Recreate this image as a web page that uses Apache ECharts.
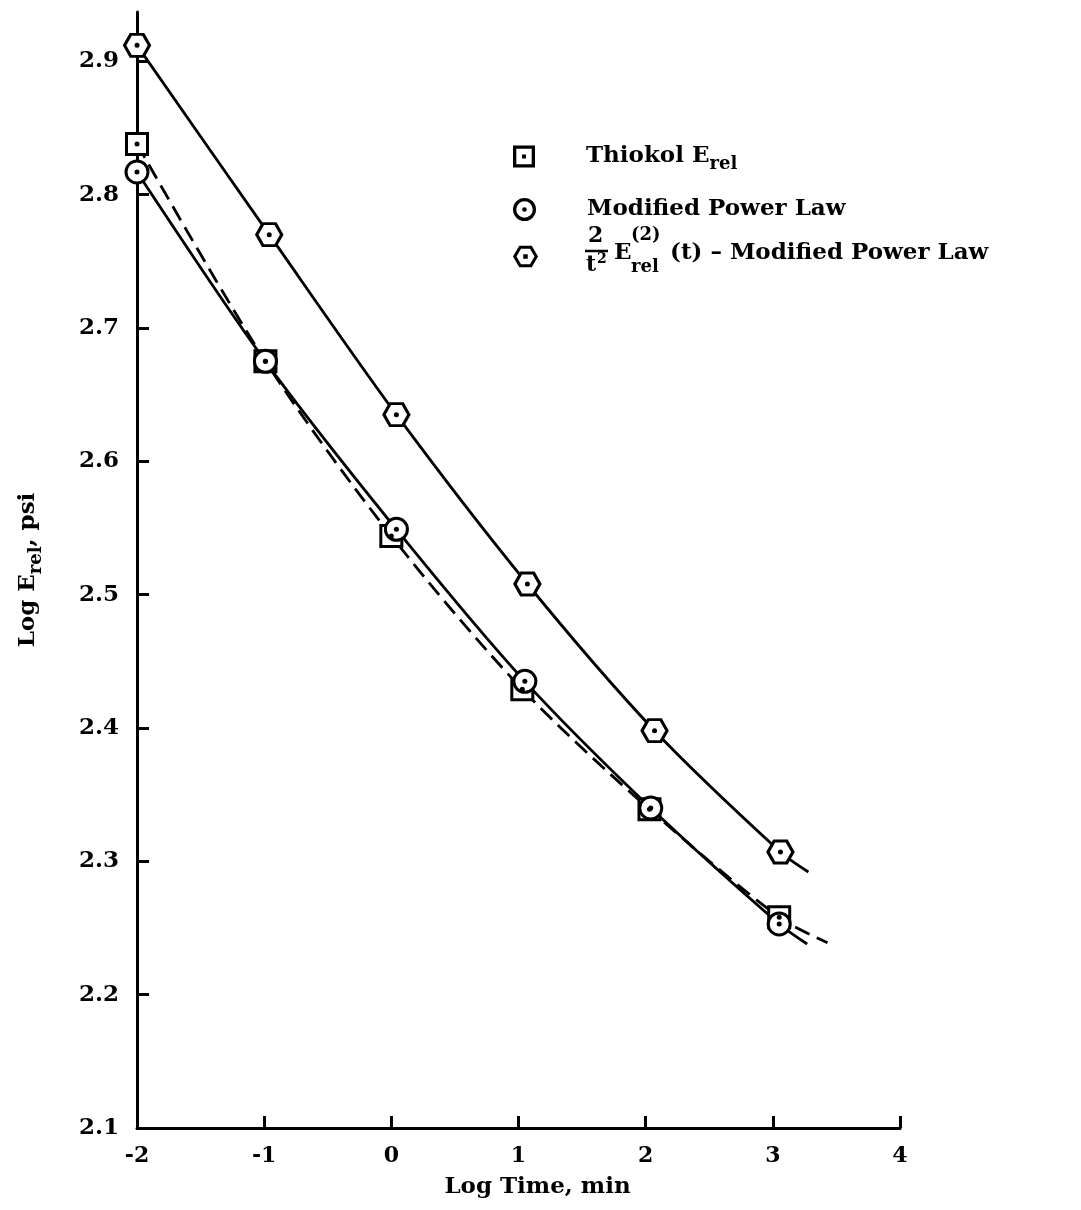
<!DOCTYPE html>
<html>
<head>
<meta charset="utf-8">
<script src="https://cdn.jsdelivr.net/npm/echarts@6.0.0/dist/echarts.min.js"></script>
<style>
html, body { margin: 0; padding: 0; background: #fff; }
#main { width: 1081px; height: 1210px; }
</style>
</head>
<body>
<div id="main"></div>
<script>
// marker points (log time, log E_rel)
var thiokolX = [-2, -0.99, 0.0, 1.03, 2.03, 3.05];
var thiokolY = [2.838, 2.675, 2.544, 2.429, 2.339, 2.258];
var powerX = [-2, -0.99, 0.04, 1.05, 2.04, 3.05];
var powerY = [2.817, 2.675, 2.549, 2.435, 2.340, 2.253];
var secondX = [-2, -0.96, 0.04, 1.07, 2.07, 3.06];
var secondY = [2.912, 2.770, 2.635, 2.508, 2.398, 2.307];
// where each drawn curve stops after the last marker
var thiokolEnd = [3.43, 2.239];
var powerEnd = [3.27, 2.238];
var secondEnd = [3.28, 2.292];
var yTicks = [2.1, 2.2, 2.3, 2.4, 2.5, 2.6, 2.7, 2.8, 2.9];

var FONT = 'DejaVu Serif';

function zip(xs, ys) {
    var out = [];
    for (var i = 0; i < xs.length; i++) out.push([xs[i], ys[i]]);
    return out;
}

var HEX = 'path://M-10,0 L-5,-8.66 L5,-8.66 L10,0 L5,8.66 L-5,8.66 Z';
// legend icons: outline ring plus centre dot
var SQ_RING = 'path://M-10,-10 L10,-10 L10,10 L-10,10 Z M-7,-7 L-7,7 L7,7 L7,-7 Z M-1.8,-1.8 L1.8,-1.8 L1.8,1.8 L-1.8,1.8 Z';
var CIRC_RING = 'path://M0,-10 A10,10 0 1,1 0,10 A10,10 0 1,1 0,-10 Z M0,-7.2 A7.2,7.2 0 1,0 0,7.2 A7.2,7.2 0 1,0 0,-7.2 Z M0,-2 A2,2 0 1,1 0,2 A2,2 0 1,1 0,-2 Z';
var HEX_RING = 'path://M-10,0 L-5,-8.66 L5,-8.66 L10,0 L5,8.66 L-5,8.66 Z M-7.2,0 L-3.6,6.2 L3.6,6.2 L7.2,0 L3.6,-6.2 L-3.6,-6.2 Z M-1.8,-1.8 L1.8,-1.8 L1.8,1.8 L-1.8,1.8 Z';

var thiokolPts = zip(thiokolX, thiokolY);
var powerPts = zip(powerX, powerY);
var secondPts = zip(secondX, secondY);
var allPts = thiokolPts.concat(powerPts, secondPts);

var markerStyle = { color: '#fff', borderColor: '#000', borderWidth: 3, opacity: 1 };
var subRich = { sub: { fontFamily: FONT, fontWeight: 'bold', fontSize: 18, color: '#000', padding: [16, 0, 0, 0] } };

function legendAt(top, name, icon, size, fmt) {
    return {
        orient: 'vertical',
        left: 508,
        top: top,
        itemWidth: size,
        itemHeight: size,
        selectedMode: false,
        data: [{ name: name, icon: icon, itemStyle: { color: '#000', borderWidth: 0, opacity: 1 } }],
        formatter: fmt,
        textStyle: {
            fontFamily: FONT, fontWeight: 'bold', fontSize: 23, color: '#000',
            padding: [0, 0, 0, 46],
            rich: subRich
        }
    };
}

var myChart = echarts.init(document.getElementById('main'));
var option = {
    backgroundColor: '#fff',
    animation: false,
    grid: { left: 137, right: 181, top: 12, bottom: 82 },
    legend: [
        legendAt(140, 'Thiokol E_rel', SQ_RING, 22, function () { return 'Thiokol E{sub|rel}'; }),
        legendAt(193, 'Modified Power Law', CIRC_RING, 23, function () { return 'Modified Power Law'; }),
        legendAt(239, 'Second derivative', HEX_RING, 25, function () { return ''; })
    ],
    xAxis: {
        type: 'value',
        min: -2,
        max: 4,
        interval: 1,
        name: 'Log Time, min',
        nameLocation: 'middle',
        nameGap: 48,
        nameTextStyle: { fontFamily: FONT, fontWeight: 'bold', fontSize: 23, color: '#000', padding: [0, 0, 0, 38] },
        axisLine: { onZero: false, lineStyle: { color: '#000', width: 3 } },
        axisTick: { inside: true, length: 12, lineStyle: { color: '#000', width: 3 } },
        axisLabel: { fontFamily: FONT, fontWeight: 'bold', fontSize: 22, color: '#000', margin: 17 },
        splitLine: { show: false }
    },
    yAxis: {
        type: 'value',
        min: 2.1,
        max: 2.937,
        interval: 0.1,
        name: 'Log E{sub|rel}, psi',
        nameLocation: 'middle',
        nameGap: 92,
        nameTextStyle: { fontFamily: FONT, fontWeight: 'bold', fontSize: 23, color: '#000', rich: subRich },
        axisLine: { show: true, onZero: false, lineStyle: { color: '#000', width: 3 } },
        axisTick: { show: true, inside: true, length: 12, customValues: yTicks, lineStyle: { color: '#000', width: 3 } },
        axisLabel: {
            fontFamily: FONT, fontWeight: 'bold', fontSize: 23, color: '#000', margin: 18,
            customValues: yTicks,
            formatter: function (v) { return v.toFixed(1); }
        },
        splitLine: { show: false }
    },
    series: [
        {
            type: 'line', smooth: 0.3, showSymbol: false, silent: true, z: 2,
            data: thiokolPts.concat([thiokolEnd]),
            lineStyle: { color: '#000', width: 2.8, type: [16, 8] }
        },
        {
            type: 'line', smooth: 0.3, showSymbol: false, silent: true, z: 2,
            data: powerPts.concat([powerEnd]),
            lineStyle: { color: '#000', width: 2.8 }
        },
        {
            type: 'line', smooth: 0.3, showSymbol: false, silent: true, z: 2,
            data: secondPts.concat([secondEnd]),
            lineStyle: { color: '#000', width: 2.8 }
        },
        {
            name: 'Thiokol E_rel', type: 'scatter', z: 3,
            symbol: 'rect', symbolSize: 21,
            data: thiokolPts, itemStyle: markerStyle
        },
        {
            name: 'Modified Power Law', type: 'scatter', z: 4,
            symbol: 'circle', symbolSize: 22,
            data: powerPts, itemStyle: markerStyle
        },
        {
            name: 'Second derivative', type: 'scatter', z: 4,
            symbol: HEX, symbolSize: [25, 22],
            data: secondPts, itemStyle: markerStyle
        },
        {
            type: 'scatter', z: 5, silent: true,
            symbol: 'circle', symbolSize: 5,
            data: allPts, itemStyle: { color: '#000', opacity: 1 }
        }
    ],
    graphic: [
        { type: 'text', left: 588, top: 225, style: { text: '2', font: 'bold 22px "DejaVu Serif"', fill: '#000' } },
        { type: 'line', shape: { x1: 585, y1: 251, x2: 608, y2: 251 }, style: { stroke: '#000', lineWidth: 2.5 } },
        { type: 'text', left: 586, top: 254, style: { text: 't', font: 'bold 22px "DejaVu Serif"', fill: '#000' } },
        { type: 'text', left: 597, top: 252, style: { text: '2', font: 'bold 14px "DejaVu Serif"', fill: '#000' } },
        { type: 'text', left: 614, top: 242, style: { text: 'E', font: 'bold 23px "DejaVu Serif"', fill: '#000' } },
        { type: 'text', left: 631, top: 226, style: { text: '(2)', font: 'bold 18px "DejaVu Serif"', fill: '#000' } },
        { type: 'text', left: 631, top: 258, style: { text: 'rel', font: 'bold 18px "DejaVu Serif"', fill: '#000' } },
        { type: 'text', left: 670, top: 242, style: { text: '(t) \u2013 Modified Power Law', font: 'bold 23px "DejaVu Serif"', fill: '#000' } }
    ]
};
myChart.setOption(option, true);

window.onresize = function () {
    myChart.resize();
};
</script>
</body>
</html>
